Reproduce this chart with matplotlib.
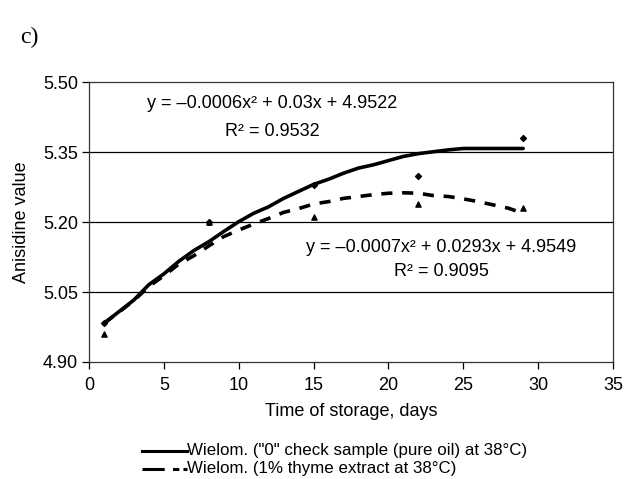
import matplotlib
matplotlib.use("Agg")
import matplotlib.pyplot as plt
from matplotlib.lines import Line2D

# --- data ---
days = [1, 8, 15, 22, 29]
pure_oil = [4.983, 5.20, 5.28, 5.30, 5.38]
thyme = [4.96, 5.20, 5.21, 5.24, 5.23]

trend_x = [1, 2, 3, 4, 5, 6, 7, 8, 9, 10, 11, 12, 13, 14, 15, 16, 17, 18, 19,
           20, 21, 22, 23, 24, 25, 26, 27, 28, 29]
trend_pure = [4.983, 5.008, 5.033, 5.066, 5.089, 5.116, 5.139, 5.158, 5.180,
              5.201, 5.219, 5.233, 5.251, 5.266, 5.281, 5.292, 5.305, 5.316,
              5.323, 5.332, 5.341, 5.347, 5.351, 5.355, 5.358, 5.358, 5.358,
              5.358, 5.358]
trend_thyme = [4.983, 5.007, 5.032, 5.062, 5.085, 5.110, 5.128, 5.149, 5.169,
               5.183, 5.196, 5.208, 5.221, 5.229, 5.239, 5.244, 5.251, 5.255,
               5.259, 5.262, 5.263, 5.262, 5.257, 5.255, 5.250, 5.244, 5.237,
               5.230, 5.219]

x_ticks = [0, 5, 10, 15, 20, 25, 30, 35]
y_ticks = [4.90, 5.05, 5.20, 5.35, 5.50]
y_tick_labels = ["4.90", "5.05", "5.20", "5.35", "5.50"]

eq1 = "y = \u20130.0006x\u00b2 + 0.03x + 4.9522"
r1 = "R\u00b2 = 0.9532"
eq2 = "y = \u20130.0007x\u00b2 + 0.0293x + 4.9549"
r2 = "R\u00b2 = 0.9095"
legend_labels = ['Wielom. ("0" check sample (pure oil) at 38\u00b0C)',
                 'Wielom. (1% thyme extract at 38\u00b0C)']

plt.rcParams['font.family'] = ['Liberation Sans', 'DejaVu Sans']
plt.rcParams['lines.scale_dashes'] = False

W, H = 626, 479
fig = plt.figure(figsize=(W / 100, H / 100), dpi=100)
ax = fig.add_axes([89 / W, 1 - 362 / H, (613 - 89) / W, (362 - 82.3) / H])

ax.set_xlim(0, 35)
ax.set_ylim(4.90, 5.50)
for yv in y_ticks[1:4]:
    ax.axhline(yv, color='black', lw=0.9, zorder=1)

ax.plot(trend_x, trend_pure, color='black', lw=2.6, solid_capstyle='round', zorder=3)
ax.plot(trend_x, trend_thyme, color='black', lw=2.6, dashes=(8, 7), zorder=3)
ax.scatter(days, pure_oil, marker='D', s=9, color='black', zorder=4)
ax.scatter(days, thyme, marker='^', s=14, color='black', zorder=4)

ax.set_xticks(x_ticks)
ax.set_yticks(y_ticks)
ax.set_yticklabels(y_tick_labels)
ax.tick_params(direction='out', length=5, width=0.9, labelsize=13, colors='black', pad=3)
ax.tick_params(axis='x', pad=6)
for s in ax.spines.values():
    s.set_linewidth(0.9)
    s.set_color('#333333')

ax.set_xlabel("Time of storage, days", fontsize=13, labelpad=6)
ax.set_ylabel("Anisidine value", fontsize=13, labelpad=9)

fig.text(272 / W, 1 - 103 / H, eq1, ha='center', va='center', fontsize=13)
fig.text(272 / W, 1 - 131 / H, r1, ha='center', va='center', fontsize=13)
fig.text(441 / W, 1 - 247 / H, eq2, ha='center', va='center', fontsize=13)
fig.text(441 / W, 1 - 271 / H, r2, ha='center', va='center', fontsize=13)

fig.text(20 / W, 1 - 37 / H, "c)", ha='left', va='center', fontsize=17,
         family=['Liberation Serif', 'DejaVu Serif'])

# legend drawn below the axes
fig.add_artist(Line2D([142 / W, 187 / W], [1 - 451 / H, 1 - 451 / H],
                      color='black', lw=2.2, transform=fig.transFigure))
fig.add_artist(Line2D([142 / W, 187 / W], [1 - 469 / H, 1 - 469 / H],
                      color='black', lw=2.2, dashes=(16, 6, 4.5, 3, 3.5, 20),
                      transform=fig.transFigure))
fig.text(187 / W, 1 - 451 / H, legend_labels[0], ha='left', va='center', fontsize=12.2)
fig.text(187 / W, 1 - 469 / H, legend_labels[1], ha='left', va='center', fontsize=12.2)

fig.savefig("out.png", dpi=100)
